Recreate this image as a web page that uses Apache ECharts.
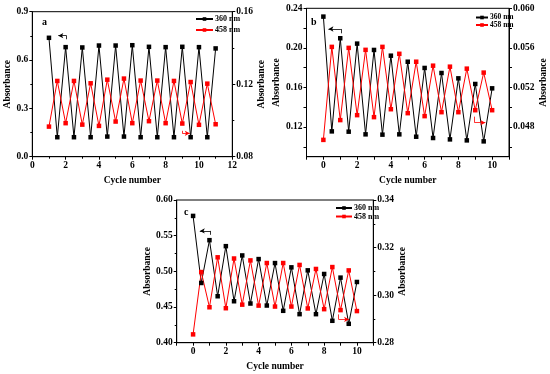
<!DOCTYPE html>
<html><head><meta charset="utf-8">
<script src="https://cdn.jsdelivr.net/npm/echarts@6/dist/echarts.min.js"></script>
<style>html,body{margin:0;padding:0;background:#fff}#c{width:550px;height:374px}</style>
</head><body><div id="c"></div>
<script>
// Panel a
const xA = [1,1.5,2,2.5,3,3.5,4,4.5,5,5.5,6,6.5,7,7.5,8,8.5,9,9.5,10,10.5,11];
const blackA = [0.738,0.121,0.680,0.121,0.678,0.121,0.690,0.125,0.690,0.125,0.692,0.121,0.682,0.121,0.680,0.121,0.682,0.121,0.680,0.121,0.672];
const redA = [0.0966,0.1218,0.0985,0.1218,0.0977,0.1205,0.0970,0.1225,0.0994,0.1231,0.0985,0.1220,0.0996,0.1220,0.0985,0.1218,0.0983,0.1212,0.0976,0.1203,0.0979];
// Panel b
const xB = [0,0.5,1,1.5,2,2.5,3,3.5,4,4.5,5,5.5,6,6.5,7,7.5,8,8.5,9,9.5,10];
const blackB = [0.2316,0.1156,0.2097,0.1153,0.2043,0.1126,0.1979,0.1123,0.1921,0.1126,0.1860,0.1102,0.1797,0.1089,0.1746,0.1075,0.1692,0.1065,0.1635,0.1055,0.1591];
const redB = [0.0467,0.0561,0.0487,0.0560,0.0492,0.0558,0.0490,0.0561,0.0498,0.0554,0.0494,0.0546,0.0491,0.0542,0.0495,0.0541,0.0495,0.0539,0.0497,0.0535,0.0497];
// Panel c
const xC = [0,0.5,1,1.5,2,2.5,3,3.5,4,4.5,5,5.5,6,6.5,7,7.5,8,8.5,9,9.5,10];
const blackC = [0.5777,0.4837,0.5437,0.4651,0.5353,0.4581,0.5223,0.4549,0.5172,0.4521,0.5116,0.4447,0.5056,0.4400,0.5014,0.4400,0.4963,0.4307,0.4912,0.4265,0.4851];
const redC = [0.2835,0.3097,0.2949,0.3159,0.2945,0.3154,0.2960,0.3146,0.2956,0.3135,0.2952,0.3135,0.2952,0.3127,0.2944,0.3110,0.2941,0.3118,0.2937,0.3104,0.2933];
// tick labels
const xTicksBC = [0,2,4,6,8,10];
const xMinorBC = [-1,0,1,2,3,4,5,6,7,8,9,10,11];
const yLeftTicksB = [0.12,0.16,0.20,0.24];
const yLeftMinorB = [0.10,0.12,0.14,0.16,0.18,0.20,0.22,0.24];
const yRightTicksB = [0.048,0.052,0.056,0.060];
const yRightMinorB = [0.046,0.048,0.050,0.052,0.054,0.056,0.058,0.060];
const seriesNames = ['360 nm','458 nm'];
const panelLabels = ['a','b','c'];
const axisTitleX = 'Cycle number';
const axisTitleY = 'Absorbance';

const FONT = 'Liberation Serif';
const BLACK = '#000000', RED = '#ff0000';
const lblStyle = {fontFamily: FONT, fontWeight: 'bold', fontSize: 9.5, color: '#000'};
const nameStyle = {fontFamily: FONT, fontWeight: 'bold', fontSize: 9.5, color: '#000'};

function zip(xs, ys){ return xs.map((x,i)=>[x, ys[i]]); }

function xAxisDef(gi, min, max, opts){
  return Object.assign({
    type:'value', gridIndex: gi, min, max, name: axisTitleX, nameLocation:'middle', nameGap: 19,
    nameTextStyle: nameStyle,
    axisLine:{show:true, onZero:false, lineStyle:{color:'#000', width:1}},
    axisTick:{show:true, length:3, lineStyle:{color:'#000'}},
    axisLabel:{...lblStyle, margin:4},
    splitLine:{show:false}
  }, opts);
}
function yAxisDef(gi, pos, min, max, fmt, gap, opts){
  return Object.assign({
    type:'value', gridIndex: gi, position: pos, min, max, name: axisTitleY, nameLocation:'middle',
    nameRotate: 90, nameGap: gap, nameTextStyle: nameStyle,
    axisLine:{show:true, onZero:false, lineStyle:{color:'#000', width:1}},
    axisTick:{show:true, length:3, lineStyle:{color:'#000'}},
    axisLabel:{...lblStyle, margin:4, formatter: v => v.toFixed(fmt)},
    splitLine:{show:false}
  }, opts);
}
function arrowML(color, segs){
  return {
    silent:true, animation:false, label:{show:false}, emphasis:{disabled:true},
    lineStyle:{color, width:0.8, type:'solid'},
    data: segs.map(s => [{coord:s[0], symbol:'none'}, {coord:s[1], symbol: s[2] ? 'arrow':'none', symbolSize:[4,5]}])
  };
}
function lineSeries(name, color, xi, yi, data, ml){
  return {
    type:'line', name, xAxisIndex: xi, yAxisIndex: yi, data,
    symbol:'rect', symbolSize:4.5, showSymbol:true,
    itemStyle:{color}, lineStyle:{color, width:1},
    markLine: ml, animation:false
  };
}

const grids = [
  {left:32.3, top:11.7, width:200, height:145},
  {left:306.5, top:8.3, width:202.5, height:148.4},
  {left:176.7, top:200, width:196.6, height:142.7}
].map(g => Object.assign(g, {show:true, borderColor:'#000', borderWidth:1, backgroundColor:'transparent'}));

const option = {
  backgroundColor:'#fff',
  animation:false,
  grid: grids,
  xAxis: [
    xAxisDef(0, 0, 12, {interval:2, minorTick:{show:true, splitNumber:2, length:2, lineStyle:{color:'#000'}}}),
    xAxisDef(1, -1, 11, {axisLabel:{...lblStyle, margin:4, customValues: xTicksBC}, axisTick:{show:true, length:3, customValues: xMinorBC, lineStyle:{color:'#000'}}}),
    xAxisDef(2, -1, 11, {axisLabel:{...lblStyle, margin:4, customValues: xTicksBC}, axisTick:{show:true, length:3, customValues: xMinorBC, lineStyle:{color:'#000'}}})
  ],
  yAxis: [
    yAxisDef(0, 'left', 0, 0.9, 1, 20, {interval:0.3, minorTick:{show:true, splitNumber:2, length:2, lineStyle:{color:'#000'}}}),
    yAxisDef(0, 'right', 0.08, 0.16, 2, 16, {interval:0.04, minorTick:{show:true, splitNumber:2, length:2, lineStyle:{color:'#000'}}}),
    yAxisDef(1, 'left', 0.09, 0.24, 2, 21, {axisLabel:{...lblStyle, margin:4, customValues: yLeftTicksB, formatter: v => v.toFixed(2)}, axisTick:{show:true, length:3, customValues: yLeftMinorB, lineStyle:{color:'#000'}}}),
    yAxisDef(1, 'right', 0.045, 0.060, 3, 24, {axisLabel:{...lblStyle, margin:4, customValues: yRightTicksB, formatter: v => v.toFixed(3)}, axisTick:{show:true, length:3, customValues: yRightMinorB, lineStyle:{color:'#000'}}}),
    yAxisDef(2, 'left', 0.40, 0.60, 2, 22, {interval:0.05, minorTick:{show:true, splitNumber:2, length:2, lineStyle:{color:'#000'}}}),
    yAxisDef(2, 'right', 0.28, 0.34, 2, 17, {interval:0.02, minorTick:{show:true, splitNumber:2, length:2, lineStyle:{color:'#000'}}})
  ],
  legend: [
    {data: seriesNames, orient:'vertical', left:190, top:10, itemWidth:17, itemHeight:4.5, itemGap:3,
     textStyle:{fontFamily:FONT, fontWeight:'bold', fontSize:8, color:'#000', padding:[0,0,0,-3]}, selectedMode:false},
    {data: seriesNames.map(n=>n+' '), orient:'vertical', left:470, top:8.5, itemWidth:12, itemHeight:4.5, itemGap:-0.5,
     textStyle:{fontFamily:FONT, fontWeight:'bold', fontSize:7.5, color:'#000', padding:[0,0,0,-3]}, selectedMode:false},
    {data: seriesNames.map(n=>n+'  '), orient:'vertical', left:330, top:199, itemWidth:16, itemHeight:4.5, itemGap:0.5,
     textStyle:{fontFamily:FONT, fontWeight:'bold', fontSize:8, color:'#000', padding:[0,0,0,-3]}, selectedMode:false}
  ],
  graphic: [
    {type:'text', left:42, top:17, style:{text:panelLabels[0], font:'bold 10px "Liberation Serif"', fill:'#000'}},
    {type:'text', left:311, top:17, style:{text:panelLabels[1], font:'bold 10px "Liberation Serif"', fill:'#000'}},
    {type:'text', left:184, top:207, style:{text:panelLabels[2], font:'bold 10px "Liberation Serif"', fill:'#000'}}
  ],
  series: [
    lineSeries(seriesNames[0], BLACK, 0, 0, zip(xA, blackA), arrowML(BLACK, [[[2.06,0.729],[2.06,0.751],false],[[2.06,0.751],[1.56,0.751],true]])),
    lineSeries(seriesNames[1], RED, 0, 1, zip(xA, redA), arrowML(RED, [[[9.0,0.0943],[9.0,0.0929],false],[[9.0,0.0929],[9.45,0.0929],true]])),
    lineSeries(seriesNames[0]+' ', BLACK, 1, 2, zip(xB, blackB), arrowML(BLACK, [[[1.04,0.2147],[1.04,0.2191],false],[[1.04,0.2191],[0.30,0.2191],true]])),
    lineSeries(seriesNames[1]+' ', RED, 1, 3, zip(xB, redB), arrowML(RED, [[[8.96,0.04905],[8.96,0.04844],false],[[8.96,0.04844],[9.6,0.04844],true]])),
    lineSeries(seriesNames[0]+'  ', BLACK, 2, 4, zip(xC, blackC), arrowML(BLACK, [[[1.06,0.5512],[1.06,0.5567],false],[[1.06,0.5567],[0.41,0.5567],true]])),
    lineSeries(seriesNames[1]+'  ', RED, 2, 5, zip(xC, redC), arrowML(RED, [[[8.88,0.2919],[8.88,0.2898],false],[[8.88,0.2898],[9.52,0.2898],true]]))
  ]
};
// legend labels shown without the trailing spaces used to keep series distinct
option.legend.forEach(l => { l.formatter = n => n.trim(); });
const chart = echarts.init(document.getElementById('c'), null, {renderer:'canvas'});
chart.setOption(option);
</script></body></html>
